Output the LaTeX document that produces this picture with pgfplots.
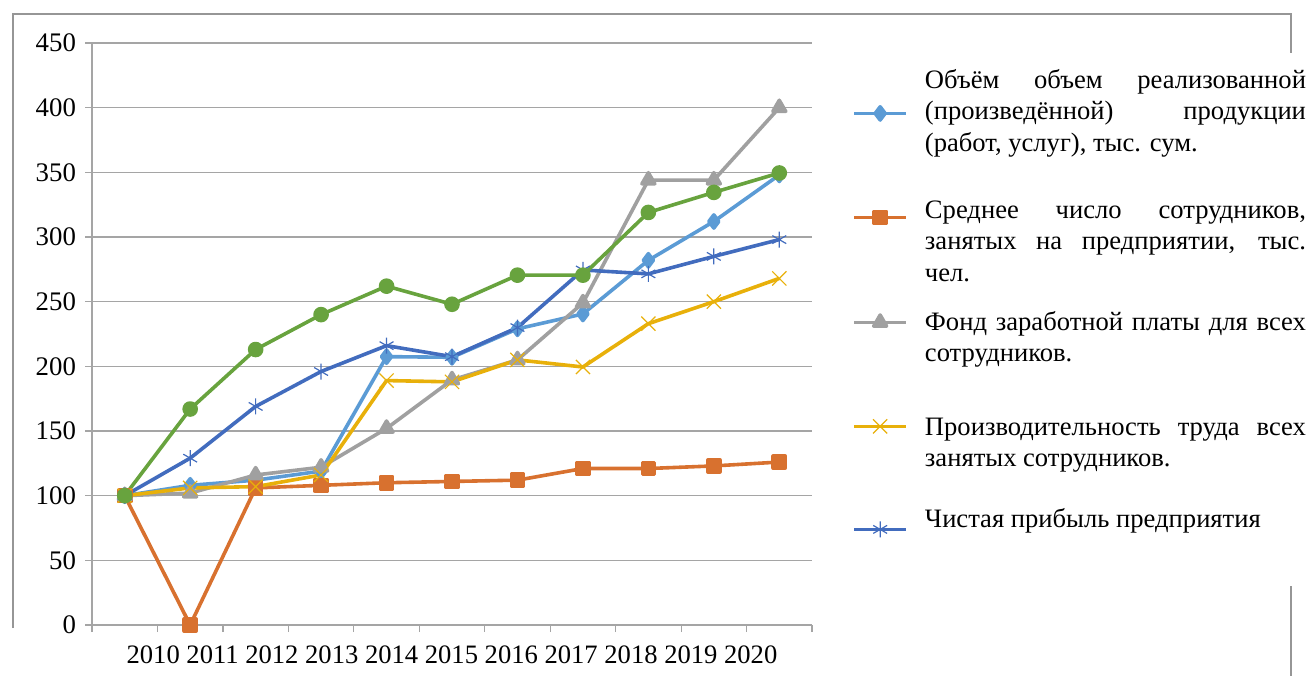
\documentclass[border=0pt]{standalone}
\usepackage{pgfplots}
\pgfplotsset{compat=1.18}
\usepackage{fontspec}
\setmainfont{Liberation Serif}
\definecolor{c1}{RGB}{91,155,213}
\definecolor{c2}{RGB}{216,113,47}
\definecolor{c3}{RGB}{160,160,160}
\definecolor{c4}{RGB}{232,176,10}
\definecolor{c5}{RGB}{66,108,190}
\definecolor{c6}{RGB}{104,163,62}
\definecolor{gridc}{RGB}{165,165,165}
\definecolor{framec}{RGB}{150,150,150}
\pgfplotsset{
  limg/.style={legend image code/.code={%
    \draw[mark repeat=2,mark phase=2] plot coordinates {(0pt,#1) (13pt,#1) (26pt,#1)};}},
}
\begin{document}
\begin{tikzpicture}
\useasboundingbox (0,0) rectangle (654.5pt,338pt);
\draw[framec, line width=0.6pt] (6.5pt,24pt) -- (6.5pt,331pt) -- (645.5pt,331pt) -- (645.5pt,311.5pt);
\draw[framec, line width=0.6pt] (645.5pt,45pt) -- (645.5pt,0pt);
\begin{axis}[
  at={(46pt,25.5pt)}, anchor=south west,
  scale only axis, width=360pt, height=291pt,
  xmin=-0.5, xmax=10.5, ymin=0, ymax=450,
  xtick={-0.5,0.5,...,10.5}, xticklabels={},
  ytick={0,50,...,450},
  ymajorgrids, grid style={gridc, line width=0.6pt},
  axis x line*=bottom, axis y line*=left,
  axis line style={gridc, line width=0.6pt},
  tick style={gridc, line width=0.6pt},
  tick align=outside, major tick length=3.5pt,
  yticklabel style={font=\fontsize{13.4pt}{16pt}\selectfont, xshift=-1pt},
  /pgf/number format/assume math mode=true,
  xlabel={2010 2011 2012 2013 2014 2015 2016 2017 2018 2019 2020},
  x label style={at={(axis description cs:0.5,0)}, anchor=base, yshift=-19pt, font=\fontsize{13.3pt}{16pt}\selectfont},
  clip=false,
  legend style={at={(axis description cs:1.0555,0.9605)}, anchor=north west,
    draw=none, fill=none, inner sep=0pt, row sep=0pt,
    /tikz/every odd column/.style={column sep=8.5pt},
    nodes={inner sep=0pt, text depth=},
    font=\fontsize{13.3pt}{15.75pt}\selectfont},
  legend cell align=left,
  every axis plot/.append style={line width=1.8pt, line join=round},
]
\addplot[c1, mark=diamond*, mark size=3.3pt, limg={9pt}] coordinates {
(0,100) (1,108) (2,112) (3,119) (4,207.5) (5,207) (6,229) (7,240.5) (8,282) (9,312) (10,348)};
\addlegendentry{\parbox[c][65pt][t]{190.5pt}{\strut Объём объем реализованной\linebreak (произведённой) продукции\linebreak (работ, услуг), тыс. сум.}}
\addplot[c2, mark=square*, mark size=3pt, limg={17.5pt}] coordinates {
(0,100) (1,0) (2,106) (3,108) (4,110) (5,111) (6,112) (7,121) (8,121) (9,123) (10,126)};
\addlegendentry{\parbox[c][56pt][t]{190.5pt}{\strut Среднее число сотрудников,\linebreak занятых на предприятии, тыс.\linebreak чел.}}
\addplot[c3, mark=triangle*, mark size=3.7pt, limg={19.25pt}] coordinates {
(0,100) (1,102) (2,116) (3,122) (4,152) (5,189.5) (6,205) (7,249) (8,344) (9,344) (10,400)};
\addlegendentry{\parbox[c][52.5pt][t]{190.5pt}{\strut Фонд заработной платы для всех\linebreak сотрудников.}}
\addplot[c4, mark=x, mark size=5pt, mark options={line width=0.6pt}, limg={16.5pt}] coordinates {
(0,100) (1,106) (2,107) (3,116) (4,189) (5,188) (6,205) (7,199.5) (8,233) (9,250) (10,268)};
\addlegendentry{\parbox[c][46pt][t]{190.5pt}{\strut Производительность труда всех\linebreak занятых сотрудников.}}
\addplot[c5, mark=asterisk, mark size=4pt, mark options={line width=0.6pt}, limg={-2pt}] coordinates {
(0,100) (1,129) (2,169) (3,196) (4,216) (5,207.5) (6,230) (7,274.5) (8,271.5) (9,285) (10,298)};
\addlegendentry{\parbox[c][20pt][t]{190.5pt}{\strut Чистая прибыль предприятия}}
\addplot[c6, mark=*, mark size=3pt, forget plot] coordinates {
(0,100) (1,167) (2,213) (3,240) (4,262) (5,248) (6,270.5) (7,270.5) (8,319) (9,334.5) (10,349.5)};
\end{axis}
\end{tikzpicture}
\end{document}
